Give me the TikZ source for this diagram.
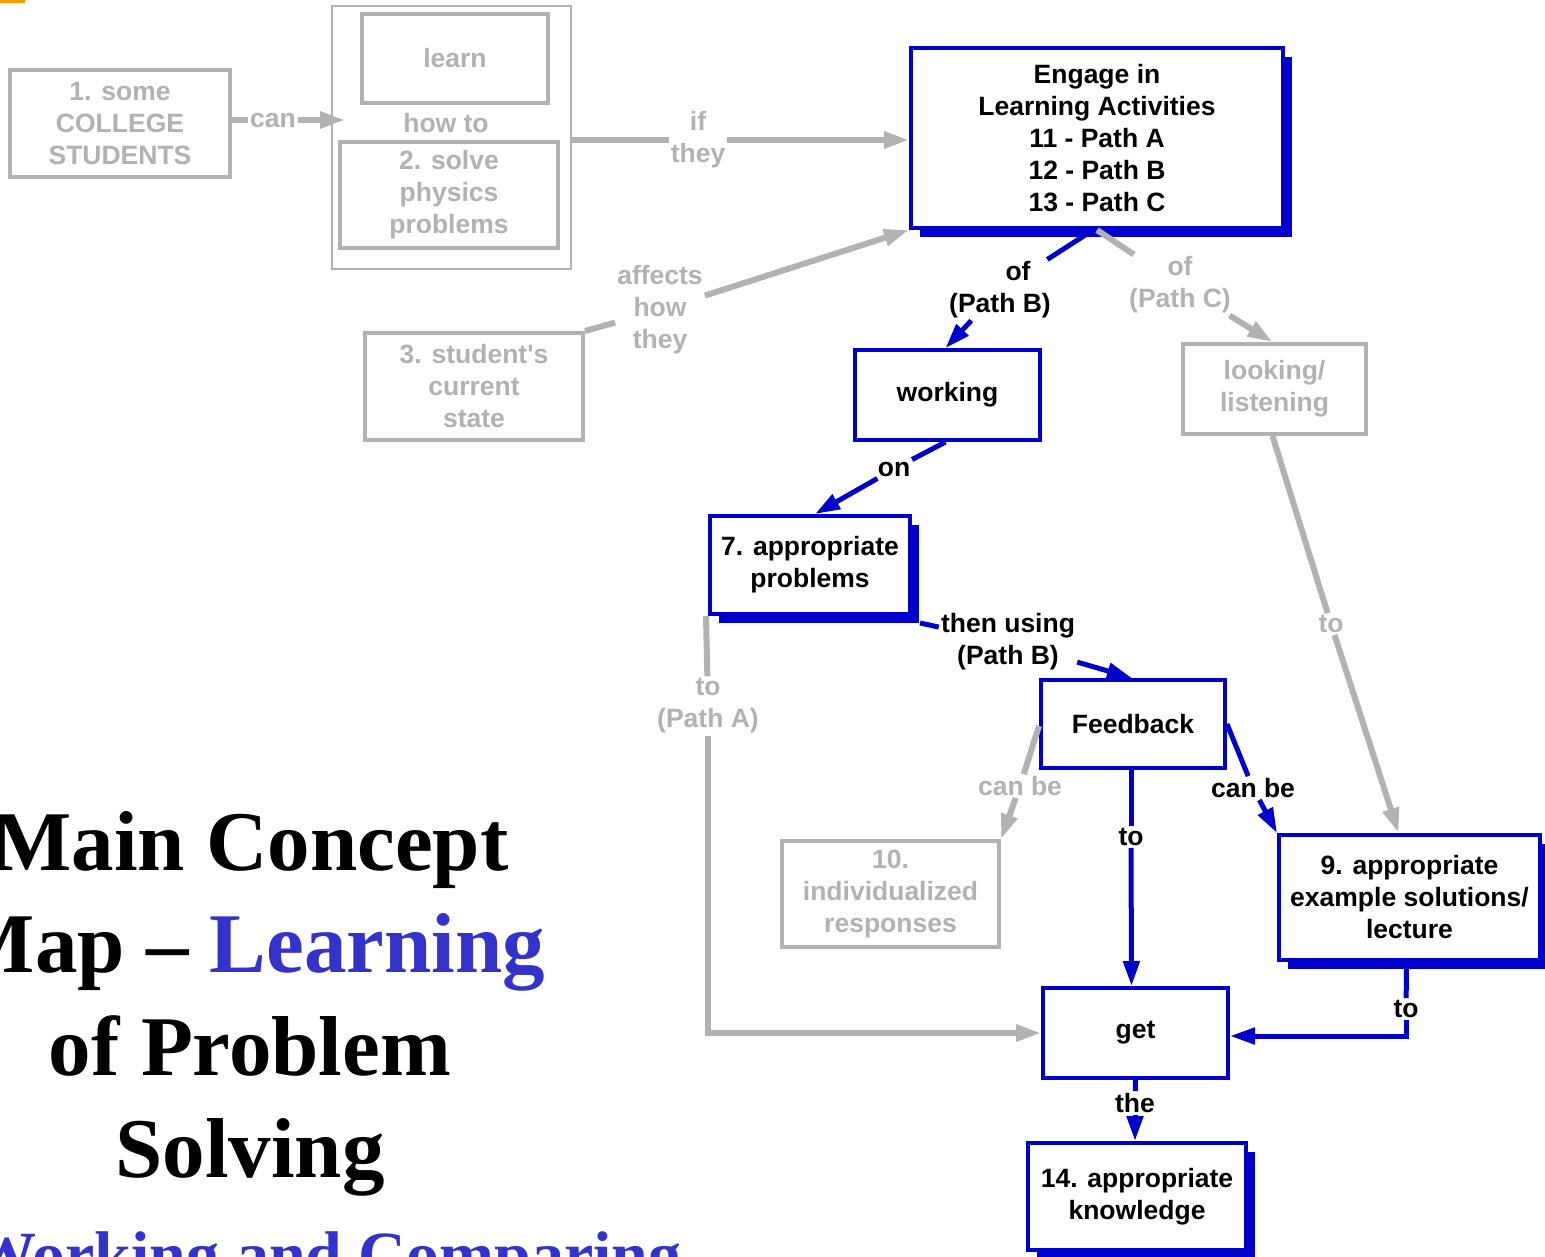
\documentclass[tikz,border=0pt]{standalone}
\usepackage{fontspec}
\setmainfont{Liberation Sans}
\newfontfamily\titlefont{Liberation Serif}
\usetikzlibrary{arrows.meta,shadows}
\definecolor{cblue}{RGB}{0,0,204}
\definecolor{cgray}{RGB}{178,178,178}
\definecolor{ctblue}{RGB}{51,51,204}
\definecolor{corange}{RGB}{255,153,0}
\newcommand{\boxfont}{\fontsize{26.5}{32}\selectfont\bfseries}
\newcommand{\ttlfont}{\titlefont\fontsize{85}{102}\selectfont\bfseries}
\tikzset{
  bbox/.style={draw=cblue, line width=4pt, fill=white, align=center, font=\boxfont, inner sep=4pt},
  gbox/.style={draw=cgray, line width=4pt, fill=white, text=cgray, align=center, font=\boxfont, inner sep=4pt},
  shad/.style={general shadow={fill=cblue, shadow xshift=9pt, shadow yshift=-9pt}},
  blbl/.style={font=\boxfont, align=center, inner sep=2pt},
  glbl/.style={blbl, text=cgray},
  bconn/.style={draw=cblue, line width=5pt},
  gconn/.style={draw=cgray, line width=6pt},
  tip/.style={-{Triangle[length=25pt,width=16pt]}},
  ttl/.style={font=\ttlfont, inner sep=0pt, anchor=base}
}
\begin{document}
\begin{tikzpicture}[x=1pt,y=-1pt]
\useasboundingbox (0,0) rectangle (1545,1256);
\fill[corange] (0,0) rectangle (25,3);

% title
\node[ttl] (t1) at (250,870) {Main Concept};
\node[ttl] (t2) at (250,972) {Map – \textcolor{ctblue}{Learning}};
\node[ttl] (t3) at (250,1075) {of Problem};
\node[ttl] (t4) at (250,1177) {Solving};
\node[font=\titlefont\fontsize{66}{80}\selectfont\bfseries, text=ctblue, inner sep=0pt, anchor=base west] (t5) at (-30,1277) {Working and Comparing};

% nodes
\node[draw=cgray, line width=2pt, minimum width=239pt, minimum height=263pt] (cont) at (451.5,137.5) {};
\node[gbox, minimum width=220pt, minimum height=107pt] (stud) at (120,123.5) {1. some\\COLLEGE\\STUDENTS};
\node[gbox, minimum width=186pt, minimum height=89pt] (learn) at (455,58.5) {learn};
\node[glbl] (howto) at (446,123) {how to};
\node[gbox, minimum width=218pt, minimum height=106pt] (solve) at (449,195) {2. solve\\physics\\problems};
\node[glbl] (can) at (273,120) {can};
\coordinate (canend) at (345,120);
\node[bbox, shad, minimum width=372pt, minimum height=180pt] (eng) at (1097,138) {Engage in\\Learning Activities\\11 - Path A\\12 - Path B\\13 - Path C};
\node[glbl] (ifl) at (698,140) {if\\they};
\node[gbox, minimum width=218pt, minimum height=107pt] (state) at (474,386.5) {3. student\textquotesingle s\\current\\state};
\node[glbl] (aff) at (660,310) {affects\\how\\they};
\node[blbl] (ofb) at (1000,290) {\hspace*{36pt}of\\(Path B)};
\node[glbl] (ofc) at (1180,285) {of\\(Path C)};
\node[bbox, minimum width=185pt, minimum height=90pt] (work) at (947.5,395) {working};
\node[gbox, minimum width=183pt, minimum height=90pt] (look) at (1274.5,389) {looking/\\listening};
\node[blbl] (on) at (894,469) {on};
\node[bbox, shad, minimum width=200pt, minimum height=98pt] (prob) at (810,565) {7. appropriate\\problems};
\node[blbl] (then) at (1008,642) {then using\\(Path B)};
\node[glbl] (toa) at (708,706) {to\\(Path A)};
\node[bbox, minimum width=184pt, minimum height=88pt] (feed) at (1133,724) {Feedback};
\node[glbl] (canbg) at (1020,786) {can be};
\node[blbl] (canbb) at (1253,788) {can be};
\node[blbl] (tofg) at (1131,837) {to};
\node[gbox, minimum width=217pt, minimum height=106pt] (indiv) at (890.5,894) {10.\\individualized\\responses};
\node[glbl] (tolook) at (1331,624) {to};
\node[bbox, shad, minimum width=261pt, minimum height=125pt] (sol) at (1409.5,897.5) {9. appropriate\\example solutions/\\lecture};
\node[blbl] (tosol) at (1406,1009) {to};
\node[bbox, minimum width=185pt, minimum height=90pt] (get) at (1135.5,1033) {get};
\node[blbl] (the) at (1135,1103) {the};
\node[bbox, shad, minimum width=218pt, minimum height=107pt] (know) at (1137,1196.5) {14. appropriate\\knowledge};

% connectors
\draw[gconn] (stud.east |- can) -- (can);
\draw[gconn, tip] (can) -- (canend);
\draw[gconn] (cont.east |- ifl) -- (ifl);
\draw[gconn, tip] (ifl) -- (eng.west |- ifl);
\draw[gconn] (state.north east) -- (aff);
\draw[gconn, tip] (aff) -- (eng.south west);
\draw[bconn] ([xshift=-4pt]eng.south) -- (ofb);
\draw[bconn, tip] (ofb) -- ([xshift=-2pt]work.north);
\draw[gconn] (eng.south) -- (ofc);
\draw[gconn, tip] (ofc) -- ([xshift=-2pt]look.north);
\draw[bconn] ([xshift=-2pt]work.south) -- (on);
\draw[bconn, tip] (on) -- ([xshift=5pt]prob.north);
\draw[bconn] ([xshift=8pt,yshift=-7pt]prob.south east) -- (then);
\draw[bconn, tip] (then) -- ([xshift=-1pt]feed.north);
\draw[gconn] ([xshift=-2pt]prob.south west) -- (toa);
\draw[gconn, tip] (toa) |- (get.west);
\draw[gconn] ([yshift=-2pt]feed.west) -- (canbg);
\draw[gconn, tip] (canbg) -- (indiv.north east);
\draw[bconn] (feed.east) -- (canbb);
\draw[bconn, tip] (canbb) -- (sol.north west);
\draw[bconn] ([xshift=-2pt]feed.south) -- (tofg);
\draw[bconn, tip] (tofg) -- ([xshift=-4pt]get.north);
\draw[gconn] ([xshift=-2pt]look.south) -- (tolook);
\draw[gconn, tip] (tolook) -- ([xshift=-11pt]sol.north);
\draw[bconn] ([xshift=-3pt,yshift=-7pt]sol.south) -- (tosol);
\draw[bconn, tip] (tosol) |- ([yshift=-3pt]get.east);
\draw[bconn] (get.south) -- (the);
\draw[bconn, tip] (the) -- ([xshift=-2pt]know.north);
\end{tikzpicture}
\end{document}
